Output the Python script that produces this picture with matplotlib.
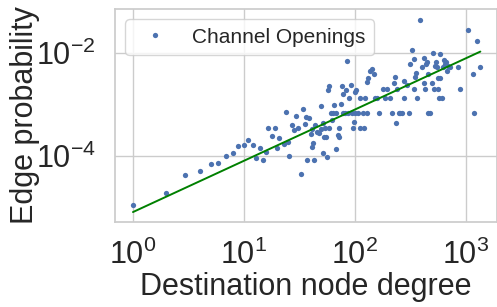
import numpy as np
import matplotlib
matplotlib.use("Agg")
import matplotlib.pyplot as plt
import seaborn as sns

# =====================
# data (log10 units)
# =====================
log_degree = [
    0.00, 0.30, 0.47, 0.60, 0.70, 0.77, 0.84, 0.90, 0.95, 1.00,
    1.04, 1.08, 1.11, 1.14, 1.17, 1.20, 1.22, 1.25, 1.28, 1.30,
    1.32, 1.36, 1.38, 1.40, 1.41, 1.43, 1.45, 1.47, 1.49, 1.51,
    1.53, 1.55, 1.56, 1.57, 1.59, 1.60, 1.61, 1.61, 1.62, 1.63,
    1.64, 1.66, 1.68, 1.69, 1.69, 1.71, 1.71, 1.72, 1.73, 1.74,
    1.75, 1.76, 1.77, 1.77, 1.78, 1.79, 1.80, 1.81, 1.83, 1.83,
    1.85, 1.86, 1.86, 1.87, 1.88, 1.89, 1.89, 1.91, 1.92, 1.93,
    1.94, 1.95, 1.96, 1.97, 1.98, 1.99, 2.00, 2.00, 2.01, 2.03,
    2.05, 2.05, 2.07, 2.08, 2.09, 2.11, 2.11, 2.12, 2.14, 2.15,
    2.17, 2.18, 2.20, 2.22, 2.25, 2.27, 2.29, 2.32, 2.33, 2.35,
    2.36, 2.37, 2.38, 2.40, 2.41, 2.42, 2.44, 2.44, 2.47, 2.49,
    2.50, 2.51, 2.53, 2.53, 2.54, 2.55, 2.56, 2.59, 2.60, 2.62,
    2.62, 2.63, 2.64, 2.65, 2.66, 2.66, 2.68, 2.69, 2.70, 2.71,
    2.72, 2.73, 2.74, 2.75, 2.75, 2.76, 2.77, 2.77, 2.78, 2.79,
    2.80, 2.81, 2.82, 2.83, 2.84, 2.86, 2.93, 2.95, 3.02, 3.06,
    3.07, 3.10, 3.13,
]
log_prob = [
    -4.95, -4.71, -4.36, -4.30, -4.15, -4.14, -3.99, -3.95, -3.81, -3.79,
    -3.69, -3.78, -4.04, -3.85, -4.07, -3.92, -3.45, -3.61, -3.45, -3.85,
    -3.65, -3.77, -3.14, -3.72, -3.99, -3.40, -3.50, -3.23, -3.46, -4.34,
    -3.08, -3.38, -3.24, -4.08, -3.26, -3.57, -3.83, -3.48, -3.75, -4.08,
    -3.40, -3.53, -3.56, -3.03, -3.47, -3.95, -3.35, -3.63, -3.46, -3.64,
    -4.01, -2.72, -3.46, -2.65, -3.17, -3.30, -3.17, -3.00, -3.87, -3.17,
    -3.59, -3.63, -3.46, -2.99, -2.65, -3.17, -2.79, -3.17, -2.71, -2.16,
    -3.17, -2.88, -2.63, -3.17, -3.46, -3.34, -3.17, -2.75, -2.71, -3.17,
    -2.88, -3.46, -3.17, -3.46, -2.88, -3.17, -2.57, -2.48, -2.34, -2.31,
    -2.40, -2.88, -2.88, -3.17, -2.70, -2.88, -2.70, -2.88, -3.17, -2.58,
    -2.46, -3.35, -2.70, -3.17, -3.17, -3.17, -2.54, -2.88, -2.63, -3.17,
    -2.22, -1.95, -2.11, -2.70, -2.46, -2.39, -2.88, -1.35, -2.27, -2.58,
    -2.09, -2.70, -2.21, -2.17, -2.40, -3.17, -3.17, -2.58, -2.00, -2.70,
    -2.25, -2.18, -2.27, -2.48, -2.70, -2.88, -2.01, -2.48, -2.88, -2.27,
    -2.14, -2.21, -2.17, -2.34, -2.25, -2.27, -2.27, -2.70, -1.55, -2.40,
    -3.17, -1.77, -2.27,
]

# power law fit: log p = a + b * log d
fit_intercept = -5.087
fit_slope = 0.995

degree = 10 ** np.array(log_degree)
prob = 10 ** np.array(log_prob)

# =====================
# style
# =====================
sns.set_theme(style="whitegrid")
plt.rcParams['font.family'] = ['Liberation Sans', 'DejaVu Sans']

fig = plt.figure(figsize=(4.97, 3.07), dpi=100)
ax = fig.add_axes([0.2314, 0.2769, 0.7686, 0.6938])

ax.plot(degree, prob, 'o', color='#4C72B0', ms=3.8, mew=0,
        label='Channel Openings')

d_line = np.array([degree.min(), degree.max()])
p_line = 10 ** (fit_intercept + fit_slope * np.log10(d_line))
ax.plot(d_line, p_line, color='#008000', lw=1.4)

ax.set_xscale('log')
ax.set_yscale('log')
ax.set_xlim(10 ** -0.162, 10 ** 3.28)
ax.set_ylim(10 ** -5.28, 10 ** -1.146)
ax.set_xticks([1, 10, 100, 1000])
ax.set_yticks([1e-4, 1e-2])
ax.minorticks_off()
ax.tick_params(labelsize=22)
ax.tick_params(axis='x', pad=6.5)
ax.tick_params(axis='y', pad=8)

ax.set_xlabel('Destination node degree', fontsize=22, labelpad=1)
ax.set_ylabel('Edge probability', fontsize=22, labelpad=-3)

ax.legend(loc='upper left', fontsize=15)

for s in ax.spines.values():
    s.set_color('0.8')

fig.savefig('out.png', dpi=100)
